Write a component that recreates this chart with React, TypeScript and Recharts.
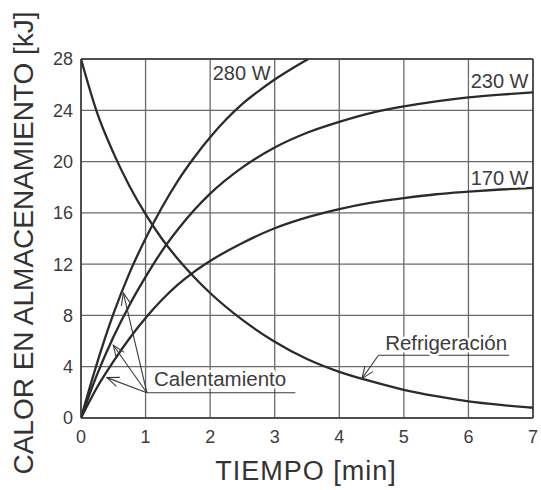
import React from 'react';
import { LineChart, Line, XAxis, YAxis, CartesianGrid, ReferenceLine, ReferenceDot, Label } from 'recharts';

// ---- data (time in min, heat in kJ) ----
const TIME_280 = [0, 0.25, 0.5, 0.75, 1, 1.25, 1.5, 1.75, 2, 2.25, 2.5, 2.75, 3, 3.25, 3.52];
const HEAT_280 = [0, 4.3, 8.1, 11.3, 14.0, 16.4, 18.5, 20.3, 21.9, 23.3, 24.5, 25.5, 26.4, 27.2, 28.0];
const TIME_FULL = [0, 0.25, 0.5, 0.75, 1, 1.25, 1.5, 1.75, 2, 2.5, 3, 3.5, 4, 4.5, 5, 5.5, 6, 6.5, 7];
const HEAT_230 = [0, 3.4, 6.3, 8.8, 11.0, 13.0, 14.7, 16.2, 17.5, 19.55, 21.1, 22.25, 23.1, 23.8, 24.3, 24.7, 25.0, 25.22, 25.4];
const HEAT_170 = [0, 2.4, 4.4, 6.2, 7.8, 9.2, 10.4, 11.4, 12.25, 13.65, 14.8, 15.65, 16.3, 16.8, 17.15, 17.45, 17.65, 17.82, 17.95];
const COOLING = [28, 23.8, 20.7, 18.1, 15.9, 14.0, 12.4, 11.0, 9.75, 7.65, 5.95, 4.6, 3.6, 2.85, 2.2, 1.7, 1.3, 1.02, 0.8];

const X_TICKS = [0, 1, 2, 3, 4, 5, 6, 7];
const Y_TICKS = [0, 4, 8, 12, 16, 20, 24, 28];

const SERIES_LABELS = [
  { text: '280 W', t: 2.04, q: 26.34, anchor: 'start' },
  { text: '230 W', t: 6.93, q: 25.77, anchor: 'end' },
  { text: '170 W', t: 6.93, q: 18.2, anchor: 'end' },
];

const NOTE_LABELS = [
  { text: 'Refrigeración', t: 4.71, q: 5.28 },
  { text: 'Calentamiento', t: 1.13, q: 2.52 },
];

// leader lines: [tail, tip]
const ARROWS = [
  [{ x: 1.02, y: 1.97 }, { x: 0.655, y: 9.75 }],
  [{ x: 1.02, y: 1.97 }, { x: 0.5, y: 5.67 }],
  [{ x: 1.02, y: 1.97 }, { x: 0.4, y: 3.15 }],
  [{ x: 4.607, y: 4.89 }, { x: 4.35, y: 3.07 }],
];
const UNDERLINES = [
  [{ x: 1.02, y: 1.97 }, { x: 3.32, y: 1.97 }],
  [{ x: 4.607, y: 4.89 }, { x: 6.63, y: 4.89 }],
];

const build = (ts: number[], qs: number[]) => ts.map((t, i) => ({ t, q: qs[i] }));
const data280 = build(TIME_280, HEAT_280);
const data230 = build(TIME_FULL, HEAT_230);
const data170 = build(TIME_FULL, HEAT_170);
const dataCool = build(TIME_FULL, COOLING);

const FONT = '"Liberation Sans", Arial, sans-serif';
const TEXT_COLOR = '#3c3c3c';
const CURVE = '#2b2b2b';

const arrowShape = (props: any) => {
  const { x1, y1, x2, y2 } = props;
  const ang = Math.atan2(y1 - y2, x1 - x2);
  const L = 13;
  const a = 0.38;
  const bx1 = x2 + L * Math.cos(ang + a);
  const by1 = y2 + L * Math.sin(ang + a);
  const bx2 = x2 + L * Math.cos(ang - a);
  const by2 = y2 + L * Math.sin(ang - a);
  return (
    <g>
      <line x1={x1} y1={y1} x2={x2} y2={y2} stroke="#3a3a3a" strokeWidth={1.1} />
      <polyline points={`${bx1},${by1} ${x2},${y2} ${bx2},${by2}`} fill="none" stroke="#3a3a3a" strokeWidth={1.1} />
    </g>
  );
};

const textShape = (text: string, anchor: string, size: number) => (props: any) => (
  <text
    x={props.cx}
    y={props.cy}
    textAnchor={anchor}
    fontFamily={FONT}
    fontSize={size}
    fill={TEXT_COLOR}
    stroke="#ffffff"
    strokeWidth={5}
    paintOrder="stroke"
  >
    {text}
  </text>
);

export default function App() {
  return (
    <div style={{ position: 'absolute', left: 0, top: 0 }}>
      <LineChart width={541} height={490} margin={{ top: 59, right: 8, bottom: 0, left: 0 }}>
        <CartesianGrid stroke="#6a6a6a" strokeWidth={1.3} />
        <XAxis
          type="number"
          dataKey="t"
          domain={[0, 7]}
          ticks={X_TICKS}
          height={72}
          allowDataOverflow
          tickLine={false}
          tickSize={6}
          tickMargin={6}
          axisLine={{ stroke: '#3a3a3a', strokeWidth: 1.6 }}
          tick={{ fontFamily: FONT, fontSize: 18, fill: TEXT_COLOR }}
        >
          <Label
            content={() => (
              <text x={306} y={480} textAnchor="middle" fontFamily={FONT} fontSize={27} letterSpacing={1} fill="#333">
                TIEMPO [min]
              </text>
            )}
          />
        </XAxis>
        <YAxis
          type="number"
          domain={[0, 28]}
          ticks={Y_TICKS}
          width={81}
          allowDataOverflow
          tickLine={false}
          axisLine={{ stroke: '#3a3a3a', strokeWidth: 1.6 }}
          tick={{ fontFamily: FONT, fontSize: 18, fill: TEXT_COLOR }}
        >
          <Label
            content={() => (
              <text
                x={33}
                y={243}
                transform="rotate(-90 33 243)"
                textAnchor="middle"
                fontFamily={FONT}
                fontSize={28}
                fill="#333"
              >
                CALOR EN ALMACENAMIENTO [kJ]
              </text>
            )}
          />
        </YAxis>
        <ReferenceLine x={7} stroke="#3a3a3a" strokeWidth={1.5} />
        <ReferenceLine y={28} stroke="#3a3a3a" strokeWidth={1.5} />

        <Line data={dataCool} dataKey="q" type="monotone" stroke={CURVE} strokeWidth={2.3} dot={false} isAnimationActive={false} />
        <Line data={data280} dataKey="q" type="monotone" stroke={CURVE} strokeWidth={2.3} dot={false} isAnimationActive={false} />
        <Line data={data230} dataKey="q" type="monotone" stroke={CURVE} strokeWidth={2.3} dot={false} isAnimationActive={false} />
        <Line data={data170} dataKey="q" type="monotone" stroke={CURVE} strokeWidth={2.3} dot={false} isAnimationActive={false} />

        {UNDERLINES.map((seg, i) => (
          <ReferenceLine key={`u${i}`} segment={seg} stroke="#3a3a3a" strokeWidth={1.1} />
        ))}
        {ARROWS.map((seg, i) => (
          <ReferenceLine key={`a${i}`} segment={seg} shape={arrowShape} />
        ))}
        {SERIES_LABELS.map((l) => (
          <ReferenceDot key={l.text} x={l.t} y={l.q} r={0} shape={textShape(l.text, l.anchor, 20)} />
        ))}
        {NOTE_LABELS.map((l) => (
          <ReferenceDot key={l.text} x={l.t} y={l.q} r={0} shape={textShape(l.text, 'start', 20.5)} />
        ))}
      </LineChart>
    </div>
  );
}
